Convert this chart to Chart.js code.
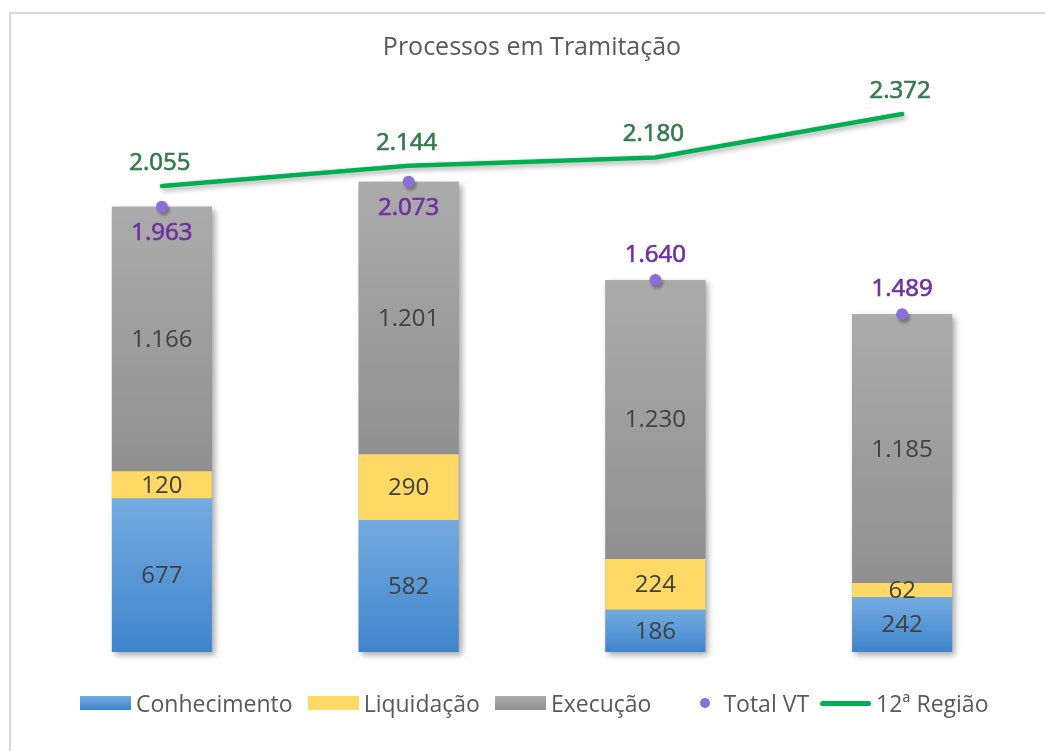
<!DOCTYPE html>
<html>
<head>
<meta charset="utf-8">
<script src="https://cdn.jsdelivr.net/npm/chart.js@4.4.1/dist/chart.umd.min.js"></script>
<style>
  html,body{margin:0;padding:0;background:#fff;overflow:hidden;}
  #wrap{position:relative;width:1045px;height:751px;overflow:hidden;}
  #frame{position:absolute;left:9px;top:12px;width:1100px;height:800px;border:2px solid #d9d9d9;box-sizing:border-box;}
  canvas{position:absolute;left:0;top:0;}
  #legend{position:absolute;left:80px;top:688px;height:30px;display:flex;align-items:center;
    font-family:"Open Sans",sans-serif;font-size:23px;color:#595959;white-space:nowrap;}
  .item{display:flex;align-items:center;margin-right:15px;}
  .box{width:51px;height:14px;margin-right:5px;}
  .dot{width:10px;height:10px;border-radius:50%;margin:0 13px 0 34px;}
  .ln{width:51px;height:5px;border-radius:3px;margin-right:5px;margin-left:-4px;}
</style>
</head>
<body>
<div id="wrap">
  <div id="frame"></div>
  <canvas id="c" width="1045" height="751"></canvas>
  <div id="legend"></div>
</div>
<script>
const categories = ['Período 1', 'Período 2', 'Período 3', 'Período 4'];
const conhecimento = [677, 582, 186, 242];
const liquidacao = [120, 290, 224, 62];
const execucao = [1166, 1201, 1230, 1185];
const totalVT = [1963, 2073, 1640, 1489];
const regiao12 = [2055, 2144, 2180, 2372];
const seriesNames = ['Conhecimento', 'Liquidação', 'Execução', 'Total VT', '12ª Região'];

const FONT = '"Open Sans", sans-serif';
const gradStops = [
  ['#74abe0', '#3f85cc'],
  ['#ffd966', '#ffd966'],
  ['#ababab', '#909090']
];

function fmt(v){
  return String(v).replace(/\B(?=(\d{3})+(?!\d))/g, '.');
}

function barGradient(di){
  return function(ctx){
    const chart = ctx.chart;
    const ca = chart.chartArea;
    if (!ca || ctx.dataIndex === undefined) return gradStops[di][0];
    const y = chart.scales.y;
    let base = 0;
    for (let k = 0; k < di; k++) base += chart.data.datasets[k].data[ctx.dataIndex];
    const v = chart.data.datasets[di].data[ctx.dataIndex];
    const top = y.getPixelForValue(base + v), bot = y.getPixelForValue(base);
    if (!(isFinite(top) && isFinite(bot)) || top === bot) return gradStops[di][0];
    const g = chart.ctx.createLinearGradient(0, top, 0, bot);
    g.addColorStop(0, gradStops[di][0]);
    g.addColorStop(1, gradStops[di][1]);
    return g;
  };
}

const shadowPlugin = {
  id: 'shadows',
  beforeDatasetsDraw(chart){
    const ctx = chart.ctx;
    const m0 = chart.getDatasetMeta(0), m2 = chart.getDatasetMeta(2);
    ctx.save();
    ctx.shadowColor = 'rgba(0,0,0,0.35)';
    ctx.shadowBlur = 6;
    ctx.shadowOffsetX = 3;
    ctx.shadowOffsetY = 3;
    ctx.fillStyle = '#999';
    m0.data.forEach((el, i) => {
      const top = m2.data[i];
      const w = el.width;
      ctx.fillRect(el.x - w/2, top.y, w, el.base - top.y);
    });
    ctx.restore();
  },
  beforeDatasetDraw(chart, args){
    if (args.index === 4 || args.index === 3){
      const ctx = chart.ctx;
      ctx.save();
      ctx.shadowColor = 'rgba(0,0,0,0.3)';
      ctx.shadowBlur = args.index === 4 ? 5 : 3;
      ctx.shadowOffsetX = 2;
      ctx.shadowOffsetY = 3;
    }
  },
  afterDatasetDraw(chart, args){
    if (args.index === 4 || args.index === 3) chart.ctx.restore();
  }
};

function boldishText(ctx, txt, x, y){
  ctx.fillText(txt, x, y);
  ctx.strokeText(txt, x, y);
}

const labelPlugin = {
  id: 'valueLabels',
  afterDatasetsDraw(chart){
    const ctx = chart.ctx;
    ctx.save();
    ctx.textAlign = 'center';
    ctx.textBaseline = 'middle';
    ctx.font = '24px ' + FONT;
    ctx.fillStyle = '#404040';
    for (let d = 0; d < 3; d++){
      const meta = chart.getDatasetMeta(d);
      meta.data.forEach((el, i) => {
        ctx.fillText(fmt(chart.data.datasets[d].data[i]), el.x, (el.y + el.base)/2 + 1);
      });
    }
    ctx.lineWidth = 0.7;
    ctx.fillStyle = ctx.strokeStyle = '#7030a0';
    const mt = chart.getDatasetMeta(3);
    mt.data.forEach((el, i) => {
      const near = regiao12[i] - totalVT[i] < 200;
      boldishText(ctx, fmt(totalVT[i]), el.x, near ? el.y + 26 : el.y - 25);
    });
    ctx.fillStyle = ctx.strokeStyle = '#357a4b';
    const ml = chart.getDatasetMeta(4);
    ml.data.forEach((el, i) => {
      boldishText(ctx, fmt(regiao12[i]), el.x - 2, el.y - 23);
    });
    ctx.restore();
  }
};

const chart = new Chart(document.getElementById('c'), {
  data: {
    labels: categories,
    datasets: [
      {type:'bar', label: seriesNames[0], data: conhecimento, backgroundColor: barGradient(0), stack:'s', order:3},
      {type:'bar', label: seriesNames[1], data: liquidacao, backgroundColor: barGradient(1), stack:'s', order:3},
      {type:'bar', label: seriesNames[2], data: execucao, backgroundColor: barGradient(2), stack:'s', order:3},
      {type:'line', label: seriesNames[3], data: totalVT, stack:'vt', showLine:false, pointRadius:6, pointHoverRadius:6,
        pointBackgroundColor:'#8a6fd6', pointBorderWidth:0, borderColor:'#8a6fd6', order:2},
      {type:'line', label: seriesNames[4], data: regiao12, stack:'r12', borderColor:'#00b050', borderWidth:4.5,
        pointRadius:0, tension:0, fill:false, borderCapStyle:'round', order:1}
    ]
  },
  options: {
    responsive:false,
    animation:false,
    devicePixelRatio:1,
    layout:{padding:{left:38.5, right:19.5, top:25, bottom:99}},
    datasets:{bar:{barPercentage:0.405, categoryPercentage:1}},
    scales:{
      x:{display:false, stacked:true, offset:true},
      y:{display:false, stacked:true, min:0, max:2500}
    },
    plugins:{
      legend:{display:false},
      tooltip:{enabled:false},
      title:{display:true, text:'Processos em Tramitação', color:'#595959',
        font:{family:FONT, size:25, weight:'normal'}, padding:{top:8, bottom:22}}
    }
  },
  plugins:[shadowPlugin, labelPlugin]
});

const leg = document.getElementById('legend');
chart.data.datasets.forEach((ds, i) => {
  const it = document.createElement('div');
  it.className = 'item';
  const mk = document.createElement('span');
  if (i < 3){
    mk.className = 'box';
    mk.style.background = 'linear-gradient(' + gradStops[i][0] + ',' + gradStops[i][1] + ')';
  } else if (i === 3){
    mk.className = 'dot';
    mk.style.background = '#8a6fd6';
  } else {
    mk.className = 'ln';
    mk.style.background = '#00b050';
  }
  const tx = document.createElement('span');
  tx.textContent = ds.label;
  it.appendChild(mk); it.appendChild(tx);
  leg.appendChild(it);
});
</script>
</body>
</html>
